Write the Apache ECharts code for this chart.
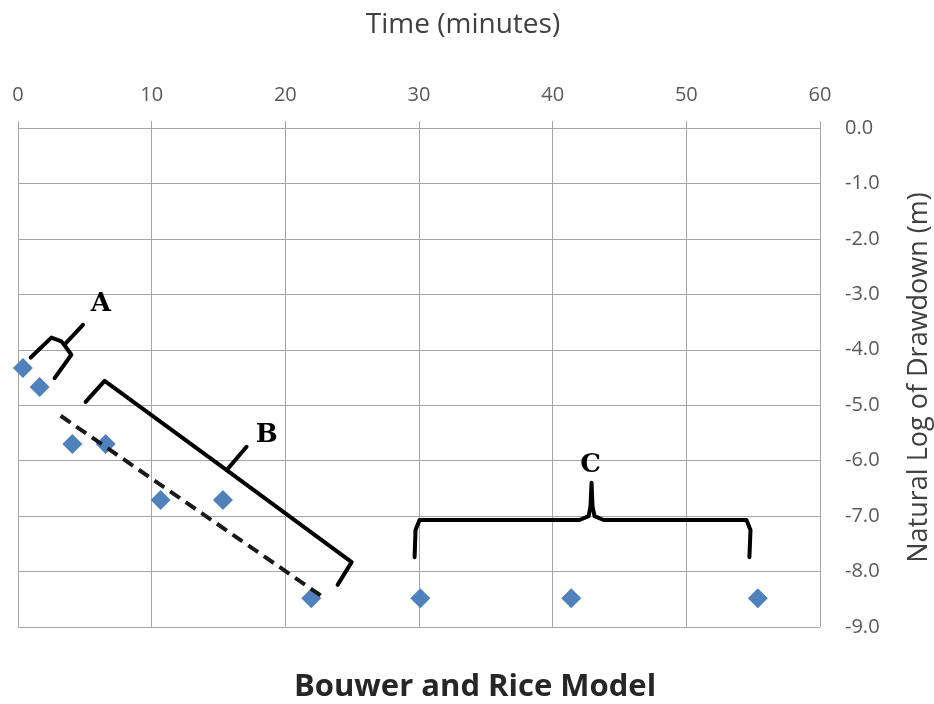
<!DOCTYPE html>
<html>
<head>
<meta charset="utf-8">
<script src="https://cdn.jsdelivr.net/npm/echarts@6/dist/echarts.min.js"></script>
<style>
  html, body { margin: 0; padding: 0; background: #fff; }
  #chart { width: 934px; height: 704px; }
</style>
</head>
<body>
<div id="chart"></div>
<script>
// Measured drawdown (natural log) versus elapsed time
const timeMinutes = [0.37, 1.62, 4.07, 6.56, 10.67, 15.33, 21.94, 30.1, 41.39, 55.35];
const lnDrawdown  = [-4.33, -4.67, -5.70, -5.70, -6.71, -6.71, -8.48, -8.48, -8.48, -8.48];

// Axis ticks
const xTicks = [0, 10, 20, 30, 40, 50, 60];
const yTicks = [0, -1, -2, -3, -4, -5, -6, -7, -8, -9];

// Annotation shapes, in (time, ln drawdown) units
const braceA = [[0.95, -4.14], [2.50, -3.78], [3.25, -3.85], [3.46, -3.91], [3.99, -4.09], [2.74, -4.51]];
const braceATip = [[3.46, -3.91], [4.86, -3.55]];
const braceB = [[5.06, -4.94], [6.48, -4.56], [15.61, -6.17], [24.96, -7.83], [23.91, -8.24]];
const braceBTip = [[15.61, -6.17], [17.1, -5.75]];
const braceC = [
  [29.67, -7.74], [29.74, -7.25], [30.04, -7.07], [42.01, -7.07], [42.69, -7.00], [42.83, -6.82],
  [42.91, -6.40], [42.98, -6.82], [43.13, -7.00], [43.81, -7.07], [54.50, -7.07], [54.80, -7.25], [54.72, -7.74]
];
const fitLine = [[3.19, -5.19], [22.94, -8.48]];
const zoneLabels = [['A', 6.19, -3.17], ['B', 18.6, -5.54], ['C', 42.83, -6.08]];

const chart = echarts.init(document.getElementById('chart'));

const gridColor = '#a6a6a6';
const tickFont = { fontFamily: 'Open Sans', fontSize: 20, color: '#595959' };

function bracketSeries(points) {
  return {
    type: 'line', data: points, symbol: 'none', silent: true, z: 4,
    lineStyle: { color: '#000', width: 4, join: 'round', cap: 'round' }
  };
}

chart.setOption({
  animation: false,
  title: [
    {
      text: 'Time (minutes)', left: 458, top: 6, textAlign: 'center',
      textStyle: { fontFamily: 'Open Sans', fontSize: 28, fontWeight: 'normal', color: '#404040' }
    },
    {
      text: 'Bouwer and Rice Model', left: 470, top: 667, textAlign: 'center',
      textStyle: { fontFamily: 'Open Sans', fontSize: 31, fontWeight: 'bold', color: '#262626' }
    }
  ],
  grid: { left: 18, right: 114, top: 128, bottom: 77, containLabel: false, outerBoundsMode: 'none' },
  xAxis: {
    type: 'value', position: 'top', min: 0, max: 60, interval: 10,
    axisLine: { show: true, lineStyle: { color: gridColor } },
    axisTick: { show: true, inside: false, length: 7, lineStyle: { color: gridColor } },
    axisLabel: Object.assign({ margin: 23, formatter: v => xTicks.includes(v) ? String(v) : '' }, tickFont),
    splitLine: { show: true, lineStyle: { color: gridColor, width: 1 } }
  },
  yAxis: {
    type: 'value', position: 'right', min: -9, max: 0, interval: 1,
    name: 'Natural Log of Drawdown (m)', nameLocation: 'middle', nameRotate: 90, nameGap: 86,
    nameTextStyle: { fontFamily: 'Open Sans', fontSize: 27, color: '#404040' },
    axisLine: { show: true, lineStyle: { color: gridColor } },
    axisTick: { show: true, inside: false, length: 8, lineStyle: { color: gridColor } },
    axisLabel: Object.assign({ margin: 25, formatter: v => yTicks.includes(Math.round(v)) ? v.toFixed(1) : '' }, tickFont),
    splitLine: { show: true, lineStyle: { color: gridColor, width: 1 } }
  },
  series: [
    {
      type: 'scatter',
      data: timeMinutes.map((t, i) => [t, lnDrawdown[i]]),
      symbol: 'diamond', symbolSize: 20,
      itemStyle: { color: '#4f81bd', opacity: 1 }, z: 3
    },
    {
      type: 'line', data: fitLine, symbol: 'none', silent: true, z: 5,
      lineStyle: { color: '#1a1a1a', width: 4, type: [12, 7] }
    },
    bracketSeries(braceA), bracketSeries(braceATip),
    bracketSeries(braceB), bracketSeries(braceBTip),
    bracketSeries(braceC),
    {
      type: 'scatter', symbol: 'circle', symbolSize: 0, silent: true, z: 6,
      itemStyle: { color: '#000', opacity: 1 },
      data: zoneLabels.map(d => ({ value: [d[1], d[2]], name: d[0] })),
      label: {
        show: true, position: 'inside', formatter: p => p.name,
        fontFamily: 'DejaVu Serif', fontWeight: 'bold', fontSize: 26, color: '#000',
        textBorderWidth: 0, opacity: 1
      }
    }
  ]
});
</script>
</body>
</html>
